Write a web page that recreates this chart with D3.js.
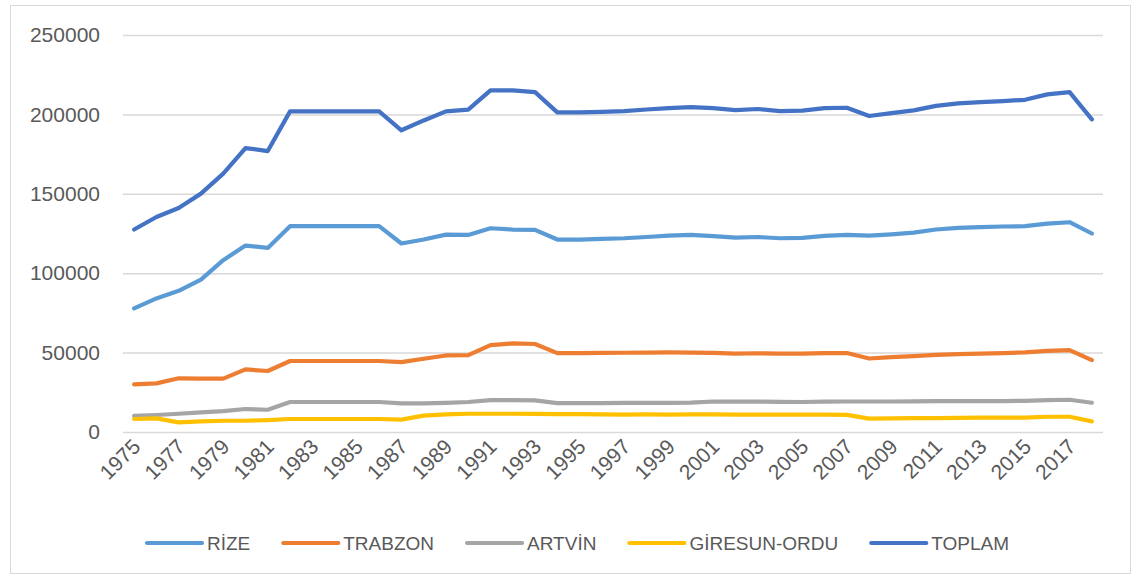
<!DOCTYPE html>
<html lang="tr">
<head>
  <meta charset="UTF-8">
  <title>Çay üretimi</title>
  <script src="https://d3js.org/d3.v7.min.js"></script>
  <style>
    body { margin: 0; background: #fff; font-family: "Liberation Sans", Arial, sans-serif; }
    #chart text { fill: #595959; }
  </style>
</head>
<body>
  <div id="chart"></div>
  <script>
    const years = [1975, 1976, 1977, 1978, 1979, 1980, 1981, 1982, 1983, 1984, 1985, 1986,
      1987, 1988, 1989, 1990, 1991, 1992, 1993, 1994, 1995, 1996, 1997, 1998, 1999, 2000,
      2001, 2002, 2003, 2004, 2005, 2006, 2007, 2008, 2009, 2010, 2011, 2012, 2013, 2014,
      2015, 2016, 2017, 2018];

    const rize = [77800, 84100, 88900, 96000, 108200, 117400, 115900, 129600, 129600, 129600, 129600, 129600,
      118700, 121200, 124300, 124100,
      128300, 127500, 127300, 121200, 121200, 121600, 122000, 122800, 123700, 124100,
      123300, 122400, 122800, 122000, 122200, 123500, 124100, 123700, 124500, 125600,
      127500, 128500, 129000, 129400, 129600, 131200, 132100, 125000];
    const trabzon = [30000, 30600, 33800, 33600, 33600, 39400, 38400, 44700, 44700, 44700, 44700, 44700,
      44000, 46100, 48200, 48400,
      54700, 55800, 55400, 49700, 49700, 49800, 49900, 50000, 50100, 50000,
      49800, 49400, 49600, 49400, 49300, 49700, 49700, 46300, 47200, 47800,
      48600, 49000, 49400, 49700, 50100, 51100, 51600, 45300];
    const artvin = [10100, 10700, 11500, 12400, 13200, 14500, 14000, 18900, 18900, 18900, 18900, 18900,
      18000, 18000, 18400, 18900,
      20100, 20100, 19900, 18200, 18200, 18200, 18300, 18300, 18400, 18500,
      19200, 19100, 19100, 19000, 18900, 19100, 19200, 19200, 19200, 19300,
      19400, 19400, 19500, 19500, 19600, 20100, 20300, 18400];
    const giresunOrdu = [8200, 8600, 6100, 6700, 7100, 7100, 7500, 8200, 8200, 8200, 8200, 8200,
      7800, 10300, 11100, 11500,
      11500, 11500, 11400, 11300, 11200, 11100, 11000, 11100, 11000, 11100,
      11100, 11000, 11000, 11000, 10900, 10900, 10800, 8400, 8600, 8800,
      8800, 8900, 9000, 9000, 9100, 9600, 9600, 6700];
    const toplam = [127500, 135400, 141100, 150100, 162700, 178800, 176900, 201900, 201900, 201900, 201900, 201900,
      190000, 196200, 201900, 203000,
      215100, 215100, 214000, 201300, 201300, 201600, 202100, 203100, 204000, 204600,
      204000, 202700, 203400, 202100, 202400, 204000, 204200, 199000, 200800, 202500,
      205400, 206900, 207700, 208400, 209200, 212600, 214000, 196900];

    const seriesNames = ["RİZE", "TRABZON", "ARTVİN", "GİRESUN-ORDU", "TOPLAM"];
    const seriesValues = [rize, trabzon, artvin, giresunOrdu, toplam];
    const seriesColors = ["#5B9BD5", "#ED7D31", "#A5A5A5", "#FFC000", "#4472C4"];
    const yTicks = [0, 50000, 100000, 150000, 200000, 250000];

    const width = 1141, height = 579;
    const plot = {left: 123, right: 1103, top: 35, bottom: 432};

    const svg = d3.select("#chart").append("svg")
      .attr("width", width)
      .attr("height", height);

    // chart frame
    svg.append("rect")
      .attr("x", 10.5).attr("y", 5.5)
      .attr("width", 1120).attr("height", 568)
      .attr("fill", "#fff")
      .attr("stroke", "#d9d9d9");

    const x = d3.scalePoint()
      .domain(years)
      .range([plot.left, plot.right])
      .padding(0.5);

    const y = d3.scaleLinear()
      .domain([0, 250000])
      .range([plot.bottom, plot.top]);

    // gridlines + y labels
    const yAxis = svg.append("g")
      .attr("transform", `translate(${plot.left},0)`)
      .call(d3.axisLeft(y).tickValues(yTicks).tickSize(-(plot.right - plot.left)).tickPadding(23).tickFormat(d3.format("d")));
    yAxis.select(".domain").remove();
    yAxis.selectAll(".tick line").attr("stroke", "#d9d9d9").attr("stroke-width", 1.5);
    yAxis.selectAll(".tick text")
      .attr("font-size", 21)
      .attr("font-family", "'Liberation Sans', Arial, sans-serif");

    // x labels, every other year
    const xAxis = svg.append("g")
      .attr("transform", `translate(0,${plot.bottom})`)
      .call(d3.axisBottom(x).tickValues(years.filter((d, i) => i % 2 === 0)).tickSize(0).tickFormat(d3.format("d")));
    xAxis.select(".domain").remove();
    xAxis.selectAll(".tick text")
      .attr("font-size", 21)
      .attr("font-family", "'Liberation Sans', Arial, sans-serif")
      .attr("text-anchor", "end")
      .attr("dy", null)
      .attr("y", null)
      .attr("transform", "translate(7,16) rotate(-45)");

    const line = d3.line()
      .x((d, i) => x(years[i]))
      .y(d => y(d));

    seriesValues.forEach((vals, k) => {
      svg.append("path")
        .datum(vals)
        .attr("fill", "none")
        .attr("stroke", seriesColors[k])
        .attr("stroke-width", 4.2)
        .attr("stroke-linejoin", "round")
        .attr("stroke-linecap", "round")
        .attr("d", line);
    });

    // legend
    const legend = svg.append("g").attr("transform", "translate(0,543)");
    const items = legend.selectAll("g").data(seriesNames).join("g");
    items.append("line")
      .attr("x1", 0).attr("x2", 55)
      .attr("stroke", (d, i) => seriesColors[i])
      .attr("stroke-width", 4.2)
      .attr("stroke-linecap", "round");
    items.append("text")
      .attr("x", 60)
      .attr("dy", "0.36em")
      .attr("font-size", 19)
      .text(d => d);

    let widths = [];
    items.each(function() { widths.push(60 + this.querySelector("text").getComputedTextLength()); });
    const gap = 33;
    const total = d3.sum(widths) + gap * (widths.length - 1);
    let cx = 578 - total / 2;
    items.attr("transform", (d, i) => {
      const t = `translate(${cx},0)`;
      cx += widths[i] + gap;
      return t;
    });
  </script>
</body>
</html>
